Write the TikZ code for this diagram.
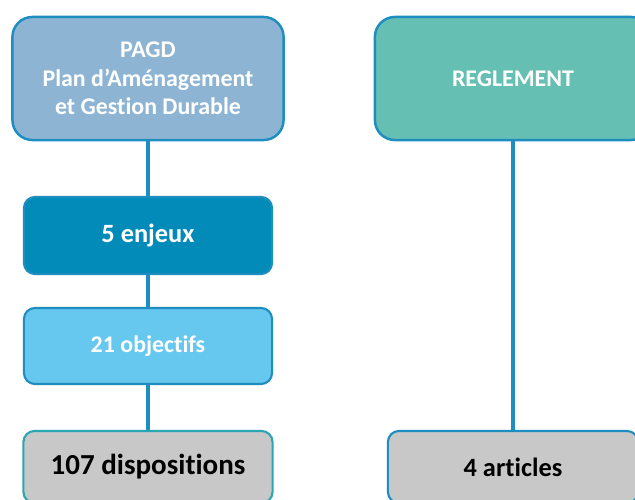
\documentclass[tikz,border=0pt]{standalone}
\usepackage{fontspec}
\setmainfont{Carlito}[Ligatures=NoCommon]
\usetikzlibrary{shapes,arrows}
\definecolor{edgeblue}{HTML}{1E8EC0}
\definecolor{pagdfill}{HTML}{8DB5D3}
\definecolor{regfill}{HTML}{66BFB3}
\definecolor{enjeuxfill}{HTML}{028BB8}
\definecolor{objfill}{HTML}{66C7EF}
\definecolor{grayfill}{HTML}{C8C8C8}
\definecolor{grayedge}{HTML}{2AA5B2}
\tikzstyle{bigblock} = [rectangle, rounded corners=0.2cm, draw=edgeblue, line width=0.7pt,
    text=white, font=\bfseries\fontsize{6.8}{8.1}\selectfont, align=center,
    minimum height=1.23cm]
\tikzstyle{block} = [rectangle, rounded corners=0.11cm, draw=edgeblue, line width=0.6pt,
    text=white, font=\bfseries\fontsize{6.8}{8.1}\selectfont, align=center,
    minimum width=2.48cm, minimum height=0.77cm]
\tikzstyle{result} = [block, draw=grayedge, fill=grayfill, text=black, minimum height=0.72cm]
\tikzstyle{line} = [draw=edgeblue, line width=1.1pt]
\begin{document}
\begin{tikzpicture}[x=0.01cm, y=-0.01cm]
    \useasboundingbox (0,0) rectangle (635,500);
    \clip (0,0) rectangle (635,500);
    % Place nodes
    \node [bigblock, fill=pagdfill, minimum width=2.71cm] (pagd) at (148,78.5)
        {PAGD\\Plan d'Aménagement\\et Gestion Durable};
    \node [bigblock, fill=regfill, minimum width=2.76cm] (reglement) at (513,78.5) {REGLEMENT};
    \node [block, fill=enjeuxfill, font=\bfseries\fontsize{7.5}{9}\selectfont] (enjeux) at (148,235.5) {5 enjeux};
    \node [block, fill=objfill, minimum height=0.76cm] (objectifs) at (148,346) {21 objectifs};
    \node [result, minimum width=2.49cm, font=\bfseries\fontsize{8.25}{10}\selectfont] (dispositions) at (148,467) {107 dispositions};
    \node [result, draw=edgeblue, minimum width=2.5cm, font=\bfseries\fontsize{7.5}{9}\selectfont] (articles) at (513,467) {4 articles};

    % Draw edges
    \path [line] (pagd) -- (enjeux);
    \path [line] (enjeux) -- (objectifs);
    \path [line] (objectifs) -- (dispositions);
    \path [line] (reglement) -- (articles);
\end{tikzpicture}
\end{document}
